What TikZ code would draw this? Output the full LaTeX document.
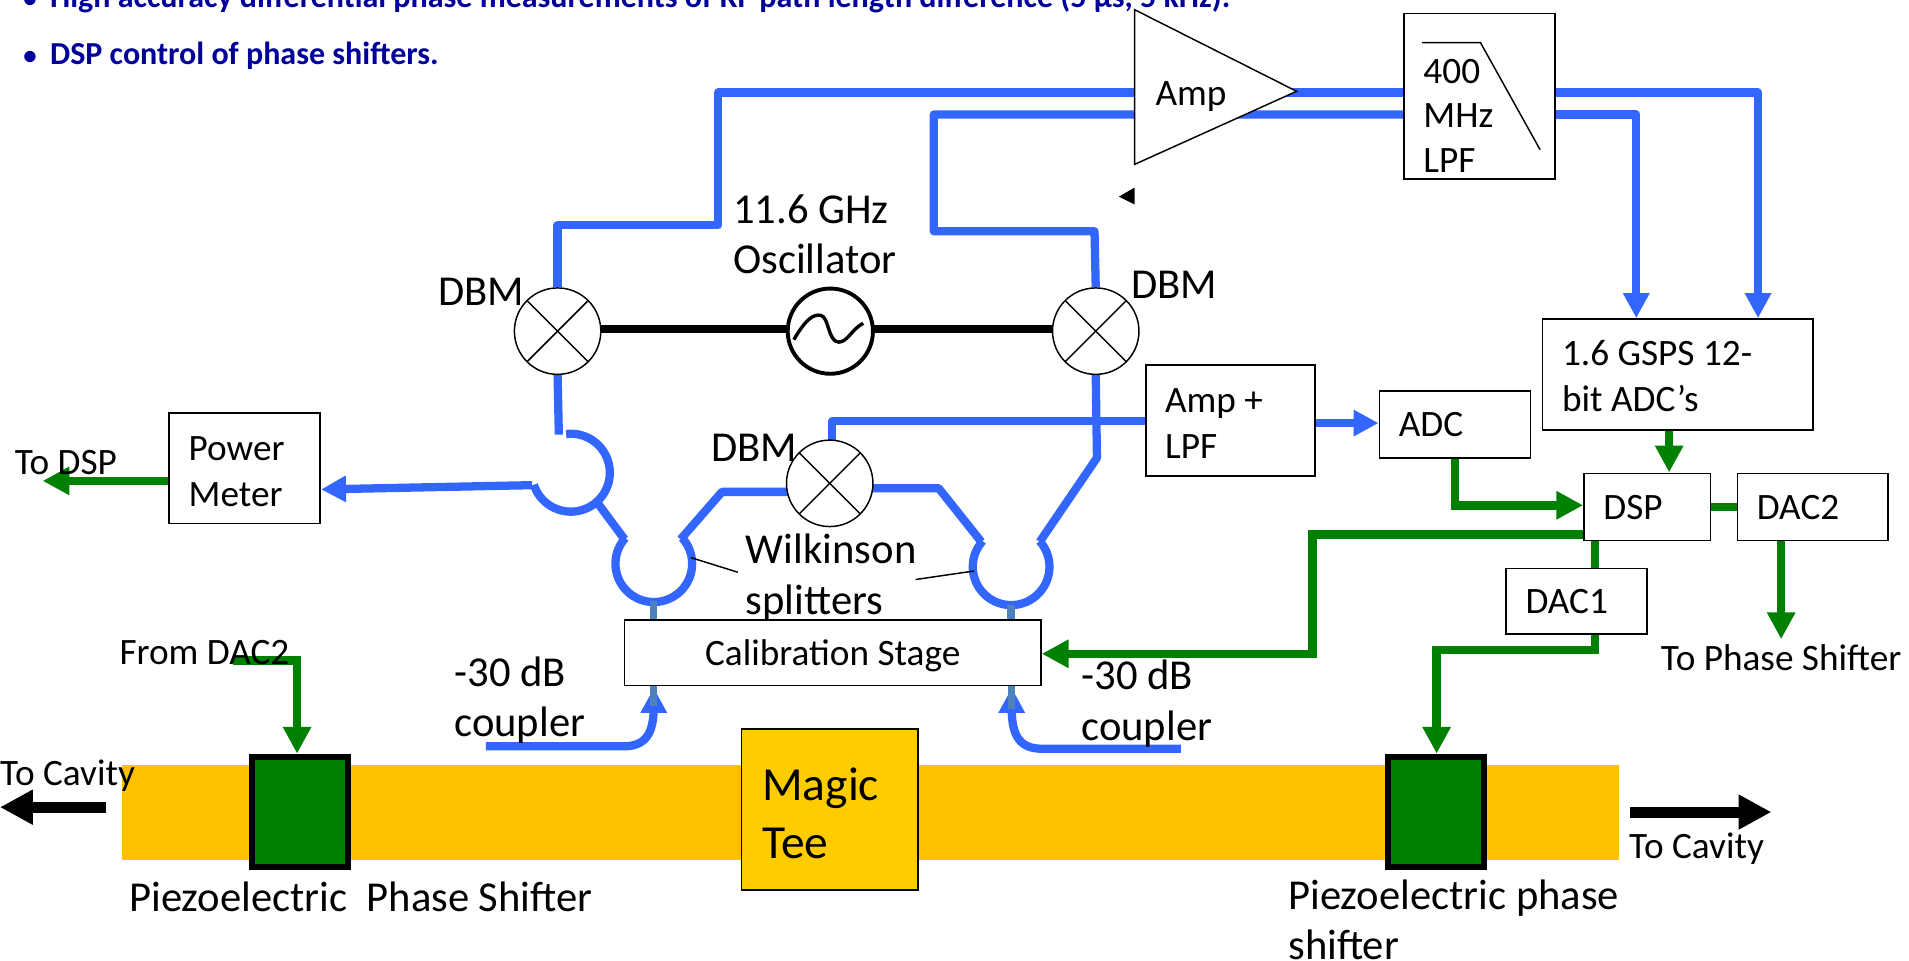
\documentclass[tikz,border=0pt]{standalone}
\usepackage{fontspec}
\setmainfont{Carlito}
\usetikzlibrary{arrows.meta,calc}
\pgfdeclarelayer{bg}
\pgfsetlayers{bg,main}
\definecolor{rfblue}{HTML}{3366FF}
\definecolor{stub}{HTML}{4F81BD}
\definecolor{sig}{HTML}{008000}
\definecolor{navy}{HTML}{000099}
\definecolor{bar}{HTML}{FFC000}
\definecolor{tee}{HTML}{FFCC00}
\newcommand{\dnh}[1]{\rule{0pt}{#1pt}}
\tikzset{
  x=1pt,y=-1pt,
  lab/.style={anchor=west,inner sep=0pt,align=left},
  lg/.style={lab,font=\fontsize{35}{41.5}\selectfont},
  md/.style={lab,font=\fontsize{30.6}{36.5}\selectfont},
  sm/.style={lab,font=\fontsize{30.6}{37}\selectfont},
  boxn/.style={draw=black,fill=white,line width=1.4pt,anchor=center,align=flush left,inner ysep=0pt,inner xsep=16pt,font=\fontsize{30.6}{37.5}\selectfont},
  mixer/.style={circle,draw=black,fill=white,line width=1.2pt,minimum size=71pt,inner sep=0pt,
    path picture={\draw[line width=1.2pt] (path picture bounding box.north west)--(path picture bounding box.south east)
       (path picture bounding box.north east)--(path picture bounding box.south west);}},
  rf/.style={draw=rfblue,line width=6.8pt,line join=round},
  rfa/.style={rf,-{Triangle[length=20.5pt,width=20.5pt]}},
  gr/.style={draw=sig,line width=7pt},
  gra/.style={gr,-{Triangle[length=22pt,width=22pt]}},
  st/.style={draw=stub,line width=6pt},
  blk/.style={draw=black,line width=6.6pt},
  fat/.style={draw=black,line width=9pt,-{Triangle[length=27pt,width=27pt]}},
  thin/.style={draw=black,line width=1.2pt},
  shifter/.style={draw=black,fill=sig,line width=5pt,minimum width=79pt,minimum height=90pt,inner sep=0pt},
  bul/.style={anchor=base west,inner sep=0pt,text=navy,font=\fontsize{26.3}{32}\selectfont\bfseries}
}
\begin{document}
\begin{tikzpicture}
\useasboundingbox (0,0) rectangle (1568,789.3);
% bullets
\node[bul] (b1) at (19,6) {\makebox[22pt][l]{\fontsize{22}{26}\selectfont•}High accuracy differential phase measurements of RF path length difference (5 μs, 5 kHz).};
\node[bul] (b2) at (19,53) {\makebox[22pt][l]{\fontsize{22}{26}\selectfont•}DSP control of phase shifters.};
% waveguide
\node[fill=bar,minimum width=1230pt,minimum height=78pt,inner sep=0pt] (wg) at (715,667) {};
\node[shifter] (psL) at (246.5,667) {};
\node[shifter] (psR) at (1179.5,667) {};
\node[draw=black,fill=tee,line width=1.4pt,minimum width=145pt,minimum height=132pt,inner sep=0pt] (tee) at (681.5,665) {};
\node[lab,font=\fontsize{39}{47}\selectfont] (teet) at (626,668) {Magic\\Tee};
% boxes
\node[boxn,minimum width=124pt,minimum height=136pt,text width=92pt] (lpf) at (1215,79) {};
\node[md] (lpft) at (1169,95) {400\\MHz\\LPF};
\node[boxn,minimum width=139pt,minimum height=91pt,text width=107pt] (amplpf) at (1010.5,345.5) {\dnh{24}Amp +\\LPF};
\node[boxn,minimum width=124pt,minimum height=55pt,text width=92pt] (adcS) at (1195,348.5) {ADC};
\node[boxn,minimum width=222pt,minimum height=91pt,text width=190pt] (adcF) at (1378,307.5) {\dnh{23}1.6 GSPS 12-\\bit ADC’s};
\node[boxn,minimum width=104pt,minimum height=55pt,text width=72pt] (dsp) at (1353,416.5) {DSP};
\node[boxn,minimum width=124pt,minimum height=55pt,text width=92pt] (dac2) at (1489,416.5) {DAC2};
\node[boxn,minimum width=116pt,minimum height=54pt,text width=84pt] (dac1) at (1295,494) {DAC1};
\node[boxn,minimum width=124pt,minimum height=91pt,text width=92pt] (pm) at (201,384.5) {\dnh{25}Power\\Meter};
\node[boxn,minimum width=342pt,minimum height=54pt,text width=310pt,align=flush center] (cal) at (684,536) {\dnh{27}Calibration Stage};
% amp
\coordinate (ampA) at (932,8);
\coordinate (ampB) at (932,135);
\coordinate (ampT) at (1065,75);
\draw[thin,fill=white] (ampA)--(ampT)--(ampB)--cycle;
\node[md] (amp) at (949,79) {Amp};
\fill (932,154)--(919,161.5)--(932,168)--cycle;
% filter curve
\draw[thin] (1168,35)--(1216,35)--(1265,123);
% mixers and oscillator
\node[mixer] (mL) at (458,272) {};
\node[mixer] (mR) at (900,272) {};
\node[mixer] (mM) at (681.5,397) {};
\node[circle,draw=black,fill=white,line width=3.2pt,minimum size=70pt,inner sep=0pt] (osc) at (682,272) {};
\draw[line width=2.8pt] (652,279) .. controls (662,262) and (668,258) .. (674,259) .. controls (681,260) and (680,281) .. (689,281) .. controls (696,281) and (700,270) .. (709,265.5);
% labels
\node[lg] (l1) at (602,192.5) {11.6 GHz\\Oscillator};
\node[lg] (l2) at (360,240) {DBM};
\node[lg] (l3) at (929,234) {DBM};
\node[lg] (l4) at (584,368) {DBM};
\node[lg] (l5) at (612.5,474.5) {Wilkinson\\splitters};
\node[lg] (l6) at (373,575) {-30 dB\\coupler};
\node[lg] (l7) at (888,578) {-30 dB\\coupler};
\node[lg] (l8) at (106,737) {Piezoelectric\ \ Phase Shifter};
\node[lg] (l9) at (1058,755.5) {Piezoelectric phase\\shifter};
\node[sm] (l10) at (0,637) {To Cavity};
\node[sm] (l11) at (1338,697) {To Cavity};
\node[sm] (l12) at (98,536) {From DAC2};
\node[sm] (l13) at (12,380) {To DSP};
\node[sm] (l14) at (1364,540) {To Phase Shifter};
% splitter coordinates
\coordinate (hyb) at (469,388);
\coordinate (wL) at (537,463);
\coordinate (wR) at (830.5,465.5);
% wilkinson pointers
\draw[thin] (567.5,458)--(606,470);
\draw[thin] (800,469)--(752,476);
\begin{pgfonlayer}{bg}
% hybrid and splitters
\draw[rf] (mL.south) -- (459,357);
\draw[rf] (465,356.5) arc[start angle=-97,end angle=162,radius=32];
\draw[rf] (490,412) -- (513,443);
\draw[rf] ($(wL)+(222:31.5)$) arc[start angle=222,end angle=-42,radius=31.5];
\draw[rf] ($(wR)+(222:31.5)$) arc[start angle=222,end angle=-42,radius=31.5];
\draw[rf] (559,443) -- (593,404) -- (mM.center |- 0,404);
\draw[rf] (mM.center |- 0,401) -- (771,401) -- (806,445);
\draw[rf] (mR.south) -- (901,376) -- (854,445);
\draw[rf] (683.5,380) -- (683.5,346) -- (amplpf.center |- 0,346);
% upper loops
\draw[rf] (mL.north) -- (458,185) -- (590,185) -- (590,76) -- (lpf.center |- 0,76);
\draw[rf] (mR.north) -- (899,190) -- (767,190) -- (767,94) -- (lpf.center |- 0,94);
\draw[rfa] (lpf.center |- 0,76) -- (1444,76) -- (1444,0 |- adcF.north);
\draw[rfa] (lpf.center |- 0,94) -- (1344,94) -- (1344,0 |- adcF.north);
\draw[rfa] (437,398.5) -- (pm.east |- 0,402);
\draw[rfa] (amplpf.center |- 0,347.5) -- (adcS.west |- 0,347.5);
% couplers
\draw[rfa] (399,613) -- (512,613) .. controls (530,613) and (537,603) .. (537,580) -- (537,565);
\draw[rfa] (970,615) -- (856,615) .. controls (838,615) and (831,605) .. (831,582) -- (831,565);
% stubs
\draw[st] (537,494) -- (537,0 |- cal.north);
\draw[st] (830.5,497) -- (830.5,0 |- cal.north);
\draw[st] (537,563) -- (537,580);
\draw[st] (831,563) -- (831,582);
% osc leads
\draw[blk] (mL.center |- 0,270) -- (osc.center |- 0,270);
\draw[blk] (osc.center |- 0,270) -- (mR.center |- 0,270);
% green
\draw[gra] (1371,353) -- (1371,388);
\draw[gra] (1195,376) -- (1195,415) -- (dsp.west |- 0,415);
\draw[gr] (dsp.east) -- (dac2.west);
\draw[gra] (1463,444) -- (1463,525);
\draw[gra] (dsp.center |- 0,439) -- (1078,439) -- (1078,537) -- (cal.east |- 0,537);
\draw[gr] (1310,444) -- (1310,467);
\draw[gra] (1310,521) -- (1310,534) -- (1180,534) -- (1180,619);
\draw[gra] (pm.west |- 0,395) -- (35,395);
\draw[gra] (191,542.5) -- (244,542.5) -- (244,619);
\end{pgfonlayer}
% cavity arrows
\draw[fat] (87,663) -- (0,663);
\draw[fat] (1339,667) -- (1455,667);
\end{tikzpicture}
\end{document}
